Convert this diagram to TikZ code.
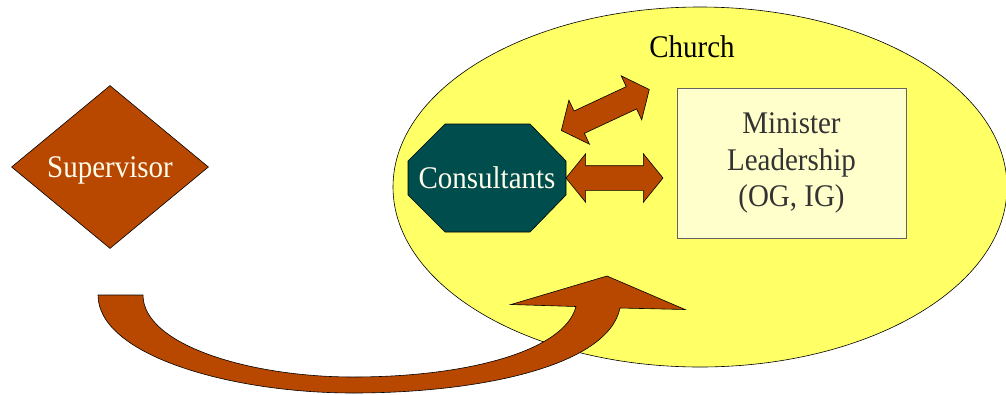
\documentclass[tikz,border=0pt]{standalone}
\usepackage{fontspec}
\setmainfont{Liberation Serif}[FakeStretch=0.92]
\usetikzlibrary{shapes.geometric,shapes.arrows}
\definecolor{brick}{RGB}{184,72,0}
\definecolor{churchfill}{RGB}{255,255,102}
\definecolor{boxfill}{RGB}{255,255,204}
\definecolor{boxline}{RGB}{100,100,100}
\definecolor{darktext}{RGB}{51,51,51}
\definecolor{tealdark}{RGB}{0,77,77}
\definecolor{cream}{RGB}{255,252,235}
\tikzset{
  bigfont/.style={font=\fontsize{31.5}{36.5}\selectfont},
  outline/.style={draw=black, line width=0.6pt},
  dblarrow/.style={double arrow, fill=brick, outline, minimum height=97,
    inner xsep=0pt, inner ysep=12pt, double arrow head extend=12pt,
    double arrow tip angle=102},
  octo/.style={minimum width=162, minimum height=112, inner sep=0pt, text=cream, bigfont,
    path picture={\filldraw[fill=tealdark, outline]
      ([shift={(-42,-54)}]path picture bounding box.center) --
      ([shift={(43,-54)}]path picture bounding box.center) --
      ([shift={(79,-17)}]path picture bounding box.center) --
      ([shift={(79,17)}]path picture bounding box.center) --
      ([shift={(43,54)}]path picture bounding box.center) --
      ([shift={(-42,54)}]path picture bounding box.center) --
      ([shift={(-79,17)}]path picture bounding box.center) --
      ([shift={(-79,-17)}]path picture bounding box.center) -- cycle;}}
}
\begin{document}
\begin{tikzpicture}[x=1pt,y=-1pt]
\useasboundingbox (0,0) rectangle (1006,394);
% church ellipse
\node[ellipse, fill=churchfill, outline, minimum width=614, minimum height=360, inner sep=0pt] (church) at (700,187) {};
\node[bigfont, anchor=base] (churchlbl) at (692,57) {Church};
% curved arrow from supervisor into church
\filldraw[fill=brick, outline]
  (98,295) .. controls (98,355) and (230,393) .. (353,393)
  .. controls (480,393) and (608,366) .. (620,308)
  -- (685,309.5) -- (607,276) -- (511,304.5) -- (576,306.5)
  .. controls (565,350) and (470,377) .. (353,377)
  .. controls (250,377) and (143,345) .. (143,295) -- cycle;
% minister leadership box
\node[rectangle, draw=boxline, line width=0.8pt, fill=boxfill, minimum width=229, minimum height=150,
  text=darktext, align=center, bigfont] (min) at (791.5,163) {Minister\\Leadership\\(OG, IG)};
% consultants octagon
\node[octo] (cons) at (487,178) {Consultants};
% double arrows
\node[dblarrow] (harr) at (614.5,178) {};
\node[dblarrow, rotate=25] (darr) at (605.3,110) {};
% supervisor
\node[diamond, fill=brick, outline, minimum width=197, minimum height=163, inner sep=0pt,
  text=cream, bigfont, text depth=0pt] (sup) at (110,167) {Supervisor};
\end{tikzpicture}
\end{document}
